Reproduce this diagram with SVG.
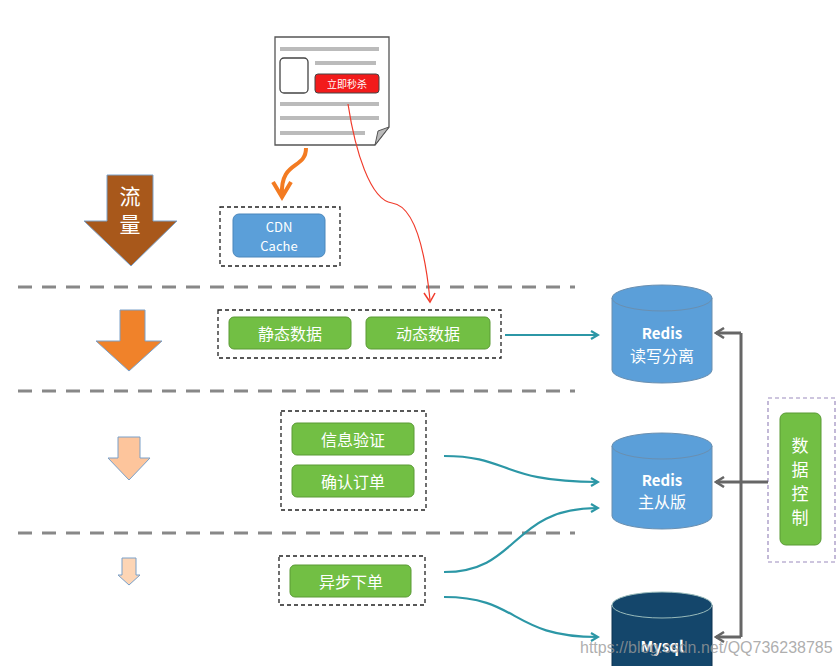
<svg xmlns="http://www.w3.org/2000/svg" width="838" height="666" viewBox="0 0 838 666">
<defs>
<style>
.t{font-family:"Noto Sans CJK SC","Liberation Sans",sans-serif;fill:#fff;text-anchor:middle}
.g{fill:#72bf44;stroke:#5a9a35;stroke-width:1}
.db{stroke:#6a8fb0;stroke-width:1}
.dash{fill:none;stroke:#222;stroke-width:1.3;stroke-dasharray:4,3}
.sep{stroke:#888;stroke-width:3;stroke-dasharray:14,10}
.teal{fill:none;stroke:#2c97a6;stroke-width:2.2}
.gray{fill:none;stroke:#666;stroke-width:3}
.line{stroke:#bbb;stroke-width:4}
</style>
<marker id="at" markerWidth="10" markerHeight="10" refX="8" refY="5" orient="auto" markerUnits="userSpaceOnUse"><path d="M1,1 L8,5 L1,9" fill="none" stroke="#2c97a6" stroke-width="2.2"/></marker>
<marker id="ag" markerWidth="12" markerHeight="12" refX="10" refY="6" orient="auto" markerUnits="userSpaceOnUse"><path d="M2,1 L10,6 L2,11" fill="none" stroke="#666" stroke-width="2.5"/></marker>
</defs>
<rect width="838" height="666" fill="#fff"/>
<g id="separators">
<line x1="18" y1="287" x2="575" y2="287" class="sep"/>
<line x1="18" y1="391" x2="575" y2="391" class="sep"/>
<line x1="18" y1="533" x2="575" y2="533" class="sep"/>
</g>
<g id="flow-arrows">
<path d="M107,175H153V221H177L131,266L84,221H107Z" fill="#a8581b" stroke="#7aa0c8" stroke-width="1"/>
<text x="130" y="204" class="t" font-size="21">流</text>
<text x="130" y="232" class="t" font-size="21">量</text>
<path d="M120,310H145V341H162L129,371L96,341H120Z" fill="#f0822a" stroke="#7aa0c8" stroke-width="1"/>
<path d="M118,437H140V458H150L129,480L108,458H118Z" fill="#fdc59c" stroke="#7aa0c8" stroke-width="1"/>
<path d="M122,558H136V575H140L129,585L118,575H122Z" fill="#fdd5b5" stroke="#7aa0c8" stroke-width="1"/>
</g>
<g id="page">
<path d="M275,37H389V127L375,145H275Z" fill="#fff" stroke="#555" stroke-width="1.3"/>
<path d="M375,145L378,131L389,127Z" fill="#bbb" stroke="#555" stroke-width="1"/>
<line x1="280" y1="49" x2="379" y2="49" class="line"/>
<line x1="315" y1="63" x2="376" y2="63" class="line"/>
<rect x="280" y="58" width="28" height="35" rx="4" fill="#fff" stroke="#444" stroke-width="1.3"/>
<rect x="315" y="74" width="64" height="19" rx="3" fill="#f21b1b" stroke="#444" stroke-width="1"/>
<text x="347" y="88" class="t" font-size="10">立即秒杀</text>
<line x1="280" y1="104" x2="379" y2="104" class="line"/>
<line x1="280" y1="118" x2="379" y2="118" class="line"/>
<line x1="280" y1="133" x2="365" y2="133" class="line"/>
</g>
<g id="cdn">
<rect x="220" y="207" width="120" height="59" class="dash"/>
<rect x="233" y="214" width="92" height="43" rx="6" fill="#5b9fd9" stroke="#4a86bb"/>
<text x="279" y="232" class="t" font-size="13">CDN</text>
<text x="279" y="251" class="t" font-size="13">Cache</text>
</g>
<g id="data-group">
<rect x="218" y="310" width="283" height="48" class="dash"/>
<rect x="229" y="317" width="122" height="32" rx="5" class="g"/>
<text x="290" y="340" class="t" font-size="16">静态数据</text>
<rect x="366" y="317" width="124" height="32" rx="5" class="g"/>
<text x="428" y="340" class="t" font-size="16">动态数据</text>
</g>
<g id="verify-group">
<rect x="281" y="411" width="145" height="99" class="dash"/>
<rect x="292" y="423" width="122" height="32" rx="5" class="g"/>
<text x="353" y="446" class="t" font-size="16">信息验证</text>
<rect x="292" y="465" width="122" height="32" rx="5" class="g"/>
<text x="353" y="488" class="t" font-size="16">确认订单</text>
</g>
<g id="order-group">
<rect x="279" y="556" width="146" height="49" class="dash"/>
<rect x="290" y="565" width="121" height="32" rx="5" class="g"/>
<text x="351" y="588" class="t" font-size="16">异步下单</text>
</g>
<g id="redis1">
<path d="M612,298V370A50,13 0 0 0 712,370V298Z" fill="#5b9fd9" class="db"/>
<ellipse cx="662" cy="298" rx="50" ry="13" fill="#5b9fd9" class="db"/>
<text x="662" y="339" class="t" font-size="15" font-weight="bold">Redis</text>
<text x="662" y="362" class="t" font-size="16">读写分离</text>
</g>
<g id="redis2">
<path d="M612,446V516A50,13 0 0 0 712,516V446Z" fill="#5b9fd9" class="db"/>
<ellipse cx="662" cy="446" rx="50" ry="13" fill="#5b9fd9" class="db"/>
<text x="662" y="486" class="t" font-size="15" font-weight="bold">Redis</text>
<text x="662" y="508" class="t" font-size="16">主从版</text>
</g>
<g id="mysql">
<path d="M612,605V670H712V605Z" fill="#14466b" stroke="#0d3350"/>
<ellipse cx="662" cy="605" rx="50" ry="13" fill="#14466b" stroke="#9bb" stroke-width="1"/>
<text x="662" y="652" class="t" font-size="15" font-weight="bold">Mysql</text>
</g>
<g id="control">
<rect x="768" y="398" width="67" height="164" fill="none" stroke="#9b8bbd" stroke-width="1.2" stroke-dasharray="4,3"/>
<rect x="780" y="413" width="41" height="132" rx="6" class="g"/>
<text x="800" y="452" class="t" font-size="17">数</text>
<text x="800" y="476" class="t" font-size="17">据</text>
<text x="800" y="500" class="t" font-size="17">控</text>
<text x="800" y="524" class="t" font-size="17">制</text>
</g>
<g id="connectors">
<path d="M306,148C306,170 280,160 282,195" fill="none" stroke="#f37b22" stroke-width="4"/>
<path d="M273,182L282,197L291,182" fill="none" stroke="#f37b22" stroke-width="4"/>
<path d="M348,104C355,150 370,200 392,203C415,206 425,250 430,300" fill="none" stroke="#f03a2a" stroke-width="1.2"/>
<path d="M424,293L430,302L435,293" fill="none" stroke="#f03a2a" stroke-width="1.5"/>
<line x1="505" y1="335" x2="598" y2="335" class="teal" marker-end="url(#at)"/>
<path d="M444,456C510,456 500,482 598,482" class="teal" marker-end="url(#at)"/>
<path d="M444,572C520,572 510,508 598,508" class="teal" marker-end="url(#at)"/>
<path d="M444,597C520,597 510,637 598,637" class="teal" marker-end="url(#at)"/>
<path d="M741,333V637" class="gray"/>
<line x1="741" y1="333" x2="716" y2="333" class="gray" marker-end="url(#ag)"/>
<line x1="768" y1="482" x2="716" y2="482" class="gray" marker-end="url(#ag)"/>
<line x1="741" y1="637" x2="716" y2="637" class="gray" marker-end="url(#ag)"/>
</g>
<text x="580" y="653" font-family="Liberation Sans,sans-serif" font-size="16" fill="#999" fill-opacity="0.8">https://blog.csdn.net/QQ736238785</text>
</svg>
